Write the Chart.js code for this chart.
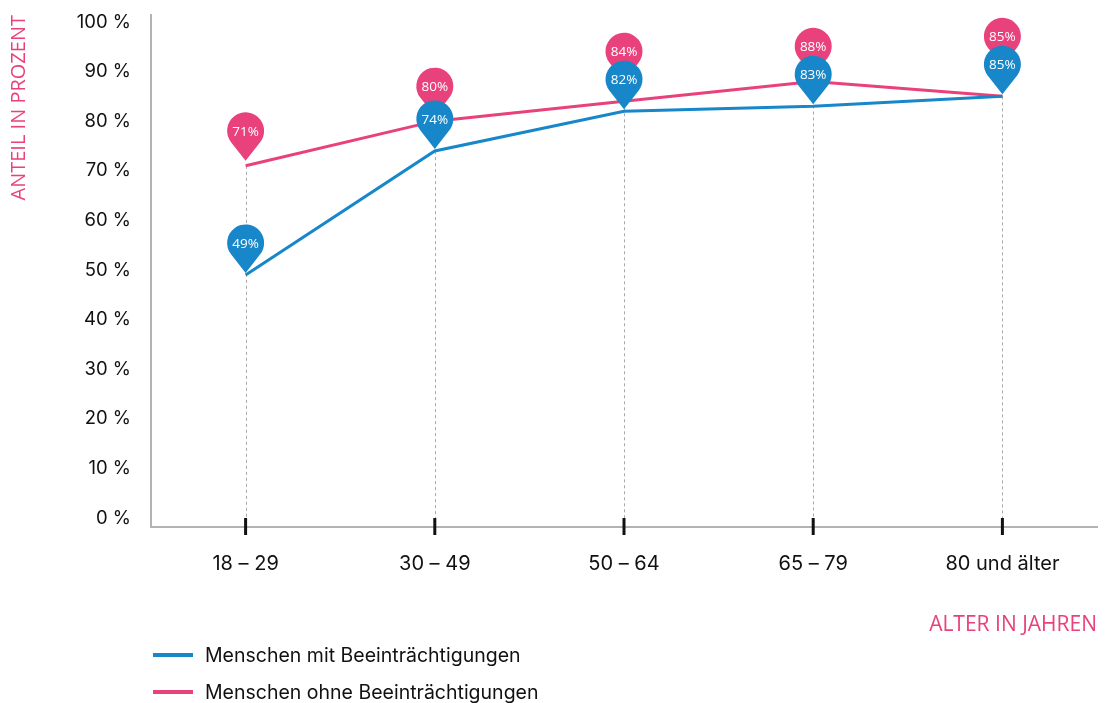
<!DOCTYPE html>
<html>
<head>
<meta charset="utf-8">
<script src="https://cdn.jsdelivr.net/npm/chart.js@4/dist/chart.umd.min.js"></script>
<style>
  html,body{margin:0;padding:0;background:#fff;}
  #wrap{position:relative;width:1105px;height:703px;}
  #legend{position:absolute;left:153px;top:636px;font-family:Inter,"Open Sans",sans-serif;font-size:19.5px;color:#111;}
  .item{display:flex;align-items:center;height:37px;}
  .sw{width:40px;height:4px;margin-right:12px;}
</style>
</head>
<body>
<div id="wrap">
<canvas id="c" width="1105" height="703"></canvas>
<div id="legend"></div>
</div>
<script>
const categories = ['18 – 29', '30 – 49', '50 – 64', '65 – 79', '80 und älter'];
const withImpairment = [49, 74, 82, 83, 85];
const withoutImpairment = [71, 80, 84, 88, 85];
const yTickValues = [0, 10, 20, 30, 40, 50, 60, 70, 80, 90, 100];
const seriesNames = ['Menschen mit Beeinträchtigungen', 'Menschen ohne Beeinträchtigungen'];
const BLUE = '#1787c9';
const PINK = '#e9417b';
const TITLE_FONT = '"Open Sans", sans-serif';
const TICK_FONT = 'Inter, sans-serif';

function pinPath(ctx, cx, cy, r, d) {
  const b = Math.acos(r / d);
  ctx.beginPath();
  ctx.arc(cx, cy, r, Math.PI / 2 + b, Math.PI / 2 - b + 2 * Math.PI, false);
  ctx.lineTo(cx, cy + d);
  ctx.closePath();
}

const decorPlugin = {
  id: 'decor',
  beforeDatasetsDraw(chart) {
    const ctx = chart.ctx;
    const bottom = chart.chartArea.bottom;
    const m0 = chart.getDatasetMeta(0), m1 = chart.getDatasetMeta(1);
    ctx.save();
    ctx.strokeStyle = '#a8a8a8';
    ctx.lineWidth = 1;
    ctx.setLineDash([3, 3]);
    for (let i = 0; i < categories.length; i++) {
      const px = Math.round(m0.data[i].x) + 0.5;
      const top = Math.min(m0.data[i].y, m1.data[i].y);
      ctx.beginPath();
      ctx.moveTo(px, top);
      ctx.lineTo(px, bottom);
      ctx.stroke();
    }
    ctx.restore();
  },
  afterDatasetsDraw(chart) {
    const ctx = chart.ctx;
    const bottom = chart.chartArea.bottom;
    const m0 = chart.getDatasetMeta(0), m1 = chart.getDatasetMeta(1);
    ctx.save();
    ctx.strokeStyle = '#111';
    ctx.lineWidth = 3;
    for (let i = 0; i < categories.length; i++) {
      const px = chart.scales.x.getPixelForValue(i);
      ctx.beginPath();
      ctx.moveTo(px, bottom - 9);
      ctx.lineTo(px, bottom + 8);
      ctx.stroke();
    }
    const r = 18.5, d = 30;
    ctx.font = '13.5px "Open Sans", sans-serif';
    ctx.textAlign = 'center';
    ctx.textBaseline = 'middle';
    for (let i = 0; i < categories.length; i++) {
      const b = m0.data[i], p = m1.data[i];
      const bcy = b.y - 32;
      let pcy = p.y - 35;
      if (pcy > bcy - 28) pcy = bcy - 28;
      ctx.fillStyle = PINK;
      pinPath(ctx, p.x, pcy, r, d);
      ctx.fill();
      ctx.fillStyle = '#fff';
      ctx.fillText(withoutImpairment[i] + '%', p.x, pcy + 1);
      ctx.fillStyle = BLUE;
      pinPath(ctx, b.x, bcy, r, d);
      ctx.fill();
      ctx.fillStyle = '#fff';
      ctx.fillText(withImpairment[i] + '%', b.x, bcy + 1);
    }
    ctx.restore();
  }
};

const chart = new Chart(document.getElementById('c'), {
  type: 'line',
  data: {
    labels: categories,
    datasets: [
      { label: seriesNames[0], data: withImpairment, borderColor: BLUE, backgroundColor: BLUE, borderWidth: 3, pointRadius: 0, tension: 0 },
      { label: seriesNames[1], data: withoutImpairment, borderColor: PINK, backgroundColor: PINK, borderWidth: 3, pointRadius: 0, tension: 0 }
    ]
  },
  options: {
    responsive: false,
    animation: false,
    layout: { padding: { top: 15, right: 8, left: 0, bottom: 0 } },
    plugins: { legend: { display: false }, tooltip: { enabled: false } },
    scales: {
      x: {
        type: 'category',
        offset: true,
        grid: { display: false, drawTicks: false },
        border: { display: true, color: '#b3b3b3', width: 2 },
        ticks: { color: '#111', font: { family: TICK_FONT, size: 20 }, padding: 25, maxRotation: 0 },
        title: { display: true, text: 'ALTER IN JAHREN', align: 'end', color: PINK,
                 font: { family: TITLE_FONT, size: 21 }, padding: { top: 0, bottom: 65 } },
        afterFit(s) { s.height = 176; s.paddingLeft = 0; s.paddingRight = 0; }
      },
      y: {
        min: -1.81,
        max: 101.4,
        grid: { display: false, drawTicks: false },
        border: { display: true, color: '#b3b3b3', width: 2 },
        afterBuildTicks(s) { s.ticks = yTickValues.map(v => ({ value: v })); },
        ticks: { color: '#111', font: { family: TICK_FONT, size: 18.5 }, padding: 20,
                 callback: v => v + ' %' },
        title: { display: true, text: 'ANTEIL IN PROZENT', align: 'end', color: PINK,
                 font: { family: TITLE_FONT, size: 20 }, padding: { top: 7, bottom: 0 } },
        afterFit(s) { s.width = 151; s.paddingTop = 0; s.paddingBottom = 0; }
      }
    }
  },
  plugins: [decorPlugin]
});

const legendEl = document.getElementById('legend');
[BLUE, PINK].forEach((col, i) => {
  const row = document.createElement('div');
  row.className = 'item';
  const sw = document.createElement('span');
  sw.className = 'sw';
  sw.style.background = col;
  const tx = document.createElement('span');
  tx.textContent = seriesNames[i];
  row.appendChild(sw); row.appendChild(tx);
  legendEl.appendChild(row);
});
</script>
</body>
</html>
